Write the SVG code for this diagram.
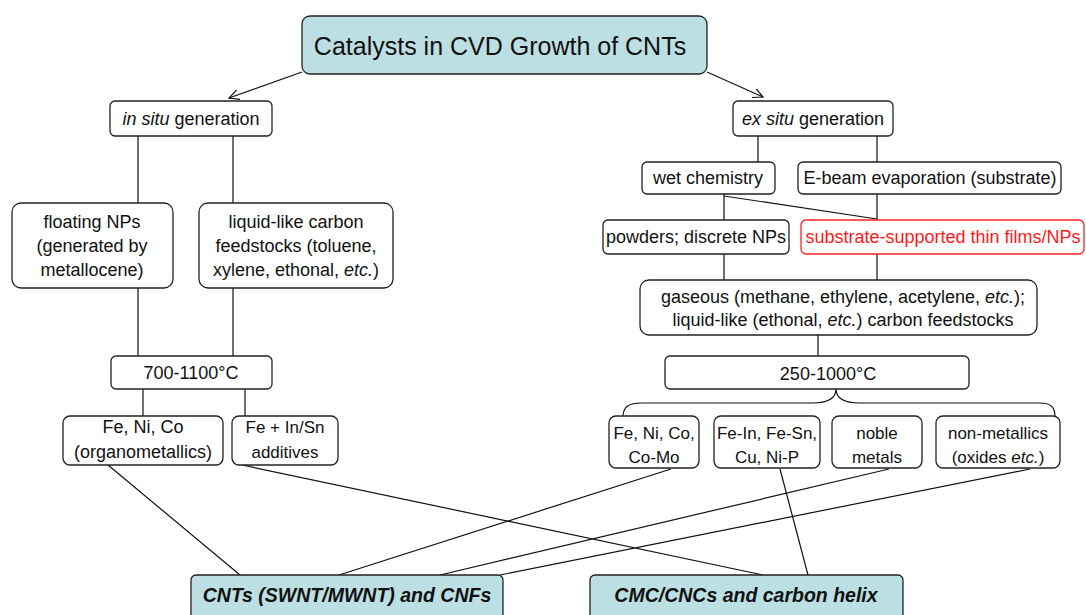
<svg xmlns="http://www.w3.org/2000/svg" width="1086" height="615" viewBox="0 0 1086 615">
<style>
.box{fill:#fff;stroke:#222;stroke-width:1.3}
.hl{fill:#bcdfe3;stroke:#222;stroke-width:1.3}
.red{fill:#fff;stroke:#ff2020;stroke-width:1.3}
.ln{fill:none;stroke:#111;stroke-width:1.2}
text{font-family:"Liberation Sans",Arial,sans-serif;font-size:18px;fill:#111;text-anchor:middle}
.s{font-size:17px}
.t{font-size:25px}
.b{font-size:19.5px;font-weight:bold;font-style:italic}
.r{fill:#ff1a1a}
</style>
<defs>
<marker id="ah" markerWidth="12" markerHeight="12" refX="10" refY="5" orient="auto" markerUnits="userSpaceOnUse">
<path d="M0,0 L10,5 L0,10" fill="none" stroke="#111" stroke-width="1.2"/>
</marker>
</defs>
<g id="connectors">
<path class="ln" d="M302,72 L229,98" marker-end="url(#ah)"/>
<path class="ln" d="M707,72 L763,97" marker-end="url(#ah)"/>
<path class="ln" d="M138,136 V203 M233,136 V203 M138,288 V356 M233,288 V356 M143,389 V416 M245,389 V416"/>
<path class="ln" d="M758,136 V162 M877,136 V162 M724,194 V220 M724,196 L877,219 M877,194 V220 M724,254 V280 M877,254 V280 M818,335 V356"/>
<path class="ln" d="M623,417 C623,407 628,403 642,403 L812,403 C828,403 836,398 836,389 C836,398 844,403 860,403 L1040,403 C1052,403 1055,408 1055,417"/>
<path class="ln" d="M108,465 L240,575 M242,465 L763,575 M671,469 L339,575 M780,469 L808,575 M889,469 L440,575 M1030,469 L500,575"/>
</g>
<g id="title"><rect class="hl" x="302" y="16" width="405" height="58" rx="8"/><text class="t" x="500" y="55">Catalysts in CVD Growth of CNTs</text></g>
<g id="insitu"><rect class="box" x="110" y="101" width="162" height="35" rx="5"/><text x="191" y="125"><tspan font-style="italic">in situ</tspan> generation</text></g>
<g id="exsitu"><rect class="box" x="733" y="101" width="160" height="35" rx="5"/><text x="813" y="125"><tspan font-style="italic">ex situ</tspan> generation</text></g>
<g id="floating"><rect class="box" x="12" y="203" width="161" height="85" rx="9"/><text x="92" y="228">floating NPs</text><text x="92" y="252">(generated by</text><text x="92" y="276">metallocene)</text></g>
<g id="liquid"><rect class="box" x="199" y="203" width="194" height="85" rx="9"/><text x="296" y="228">liquid-like carbon</text><text x="296" y="252">feedstocks (toluene,</text><text x="296" y="276">xylene, ethonal, <tspan font-style="italic">etc.</tspan>)</text></g>
<g id="t700"><rect class="box" x="111" y="356" width="161" height="33" rx="5"/><text x="191" y="379">700-1100°C</text></g>
<g id="feniCo"><rect class="box" x="63" y="416" width="160" height="49" rx="7"/><text x="143" y="433">Fe, Ni, Co</text><text x="143" y="458">(organometallics)</text></g>
<g id="feinsn"><rect class="box" x="232" y="416" width="106" height="49" rx="7"/><text class="s" x="285" y="433">Fe + In/Sn</text><text class="s" x="285" y="458">additives</text></g>
<g id="wet"><rect class="box" x="642" y="162" width="133" height="32" rx="5"/><text x="708" y="184">wet chemistry</text></g>
<g id="ebeam"><rect class="box" x="798" y="162" width="263" height="32" rx="5"/><text x="930" y="184">E-beam evaporation (substrate)</text></g>
<g id="powders"><rect class="box" x="603" y="220" width="186" height="34" rx="5"/><text x="696" y="243">powders; discrete NPs</text></g>
<g id="substrate"><rect class="red" x="801" y="220" width="283" height="34" rx="5"/><text class="r" x="943" y="243">substrate-supported thin films/NPs</text></g>
<g id="gaseous"><rect class="box" x="640" y="280" width="397" height="55" rx="9"/><text x="843" y="303">gaseous (methane, ethylene, acetylene, <tspan font-style="italic">etc.</tspan>);</text><text x="843" y="326">liquid-like (ethonal, <tspan font-style="italic">etc.</tspan>) carbon feedstocks</text></g>
<g id="t250"><rect class="box" x="665" y="356" width="304" height="33" rx="5"/><text x="828" y="380">250-1000°C</text></g>
<g id="fenicomo"><rect class="box" x="609" y="416" width="90" height="52" rx="7"/><text class="s" x="654" y="439">Fe, Ni, Co,</text><text class="s" x="654" y="463">Co-Mo</text></g>
<g id="fein"><rect class="box" x="714" y="416" width="106" height="52" rx="7"/><text class="s" x="767" y="439">Fe-In, Fe-Sn,</text><text class="s" x="767" y="463">Cu, Ni-P</text></g>
<g id="noble"><rect class="box" x="832" y="416" width="90" height="52" rx="7"/><text class="s" x="877" y="439">noble</text><text class="s" x="877" y="463">metals</text></g>
<g id="nonmet"><rect class="box" x="936" y="416" width="124" height="52" rx="7"/><text class="s" x="998" y="439">non-metallics</text><text class="s" x="998" y="463">(oxides <tspan font-style="italic">etc.</tspan>)</text></g>
<g id="cnts"><rect class="hl" x="191" y="575" width="312" height="48" rx="5"/><text class="b" x="347" y="602">CNTs (SWNT/MWNT) and CNFs</text></g>
<g id="cmc"><rect class="hl" x="590" y="575" width="313" height="48" rx="5"/><text class="b" x="746" y="602">CMC/CNCs and carbon helix</text></g>
</svg>
